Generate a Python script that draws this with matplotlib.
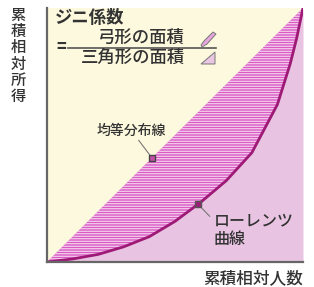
import numpy as np
import matplotlib.pyplot as plt
from matplotlib.patches import Polygon

DPI = 120  # 120 dpi makes the hatch spacing a steady 2.5 px
K = 100 / DPI  # keeps sizes as they would be at 100 dpi

plt.rcParams['font.family'] = ['Noto Sans CJK JP', 'DejaVu Sans']
plt.rcParams['hatch.linewidth'] = 0.6

# Lorenz curve (cumulative share of people -> income)
lorenz_x = [0, 0.1, 0.2, 0.3, 0.4, 0.5, 0.6, 0.7, 0.8, 0.9, 0.95, 0.975, 1.0]
lorenz_y = [0, 0.012, 0.03, 0.06, 0.1, 0.16, 0.235, 0.32, 0.43, 0.62, 0.78, 0.88, 1.0]

x_label = '累積相対人数'
y_label = '累積相対所得'
title = 'ジニ係数'
numer = '弓形の面積'
denom = '三角形の面積'
equal_label = '均等分布線'
lorenz_label = 'ローレンツ\n曲線'
equal_pt = 0.41
lorenz_pt = 0.59

W, H = 314, 287
fig = plt.figure(figsize=(W / DPI, H / DPI), dpi=DPI)
fig.patch.set_facecolor('white')


def px(x, y):
    return (x / W, 1 - y / H)


ax = fig.add_axes([47 / W, (H - 262) / H, 256 / W, 254 / H])
ax.set_xlim(0, 1)
ax.set_ylim(0, 1)
ax.set_facecolor('#fdf9de')

lx = np.array(lorenz_x)
ly = np.array(lorenz_y)

# below the Lorenz curve
ax.fill_between(lx, 0, ly, color='#e8c4e2', lw=0, zorder=1)
# between the diagonal and the Lorenz curve (hatched)
ax.fill_between(lx, ly, lx, facecolor='#d95cc5', edgecolor='#fbe6f6',
                hatch='--------', lw=0, zorder=2)
ax.plot(lx, ly, color='#9e1a76', lw=2.0 * K, zorder=3)

for s in ['top', 'right']:
    ax.spines[s].set_visible(False)
for s in ['left', 'bottom']:
    ax.spines[s].set_color('#666666')
    ax.spines[s].set_linewidth(1.6 * K)
    ax.spines[s].set_zorder(5)
ax.set_xticks([])
ax.set_yticks([])

# markers on the lines
my2 = np.interp(lorenz_pt, lx, ly)
ax.plot([equal_pt], [equal_pt], 's', ms=4 * K, mfc='#c34fa8', mec='#444444', mew=1 * K, zorder=6)
ax.plot([lorenz_pt], [my2], 's', ms=4 * K, mfc='#a01c78', mec='#555555', mew=1 * K, zorder=6)

# leader lines
ax.annotate('', xy=(equal_pt, equal_pt), xytext=(0.35, 0.49),
            arrowprops=dict(arrowstyle='-', color='#777777', lw=0.8 * K), zorder=5)
ax.annotate('', xy=(lorenz_pt, my2), xytext=(0.645, 0.17),
            arrowprops=dict(arrowstyle='-', color='#777777', lw=0.8 * K), zorder=5)

txt = dict(color='#333333', transform=fig.transFigure, fontweight='medium')
fig.text(*px(97, 131), equal_label, fontsize=10 * K, va='center', ha='left', **txt)
fig.text(*px(214, 230), lorenz_label, fontsize=11.5 * K, va='center', ha='left',
         linespacing=1.15, **txt)

fig.text(*px(55, 18), title, fontsize=12.5 * K, fontweight='bold', va='center', ha='left',
         color='#333333', transform=fig.transFigure)
fig.text(*px(61, 47), '=', fontsize=12 * K, fontweight='bold', va='center', ha='center',
         color='#333333', transform=fig.transFigure)
fig.text(*px(141, 38), numer, fontsize=12.5 * K, va='center', ha='center', **txt)
fig.text(*px(133, 58), denom, fontsize=12.5 * K, va='center', ha='center', **txt)
fig.add_artist(plt.Line2D([68 / W, 216 / W], [1 - 48 / H, 1 - 48 / H],
                          color='#555555', lw=1.2 * K))

# small icons next to the fraction
pencil = Polygon([px(201, 45), px(204, 41), px(213, 32), px(216, 34), px(207, 44), px(202, 47)],
                 closed=True, transform=fig.transFigure, facecolor='#e6a5dc',
                 edgecolor='#777777', lw=0.7 * K)
tri = Polygon([px(201, 64), px(215, 52), px(215, 64)], closed=True,
              transform=fig.transFigure, facecolor='#e9c6e2', edgecolor='#777777', lw=0.7 * K)
fig.add_artist(pencil)
fig.add_artist(tri)

fig.text(*px(303, 278), x_label, fontsize=12 * K, va='center', ha='right', **txt)
fig.text(*px(18, 56), '\n'.join(y_label), fontsize=11 * K, va='center', ha='center',
         linespacing=0.95, **txt)

fig.savefig('out.png', dpi=DPI)
